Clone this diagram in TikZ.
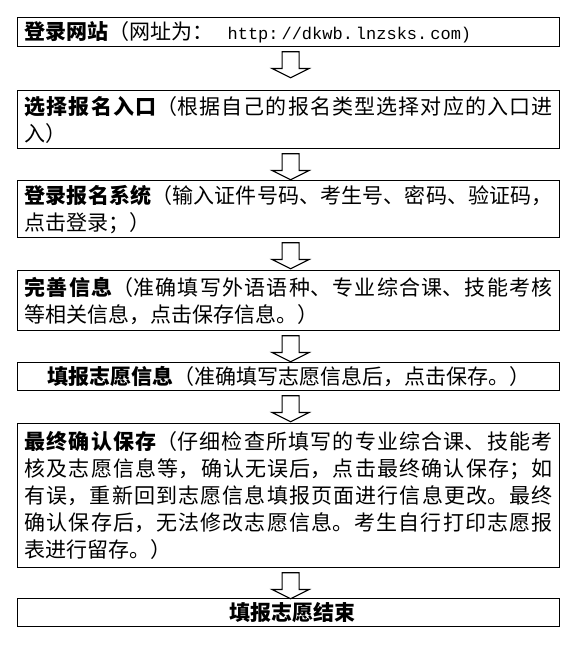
\documentclass[tikz,border=0pt]{standalone}
\usepackage{fontspec}
\newfontfamily\cjk{Noto Sans CJK SC}
\newfontfamily\urlfont{Liberation Mono}
\usetikzlibrary{shapes.arrows,calc}
\XeTeXlinebreaklocale "zh"
\XeTeXlinebreakskip=0pt plus 3pt
\begin{document}
\begin{tikzpicture}[x=1pt,y=1pt,
  box/.style={draw=black, line width=1.2pt, anchor=north west,
    text width=528pt, inner xsep=7pt, inner ysep=0pt,
    font=\cjk\fontsize{21}{27}\selectfont, align=justify},
  blockarrow/.style={single arrow, draw=black, line width=1.1pt,
    shape border rotate=270, minimum height=26pt, inner sep=8pt,
    single arrow head extend=10pt, single arrow tip angle=127, anchor=tail}]
\useasboundingbox (0,0) rectangle (579,647);
\node[box, align=left, minimum height=29pt] (b1) at (17,630)
  {{\bfseries 登录网站}（网址为：\hspace{14pt}{\urlfont\fontsize{17}{27}\selectfont http:\kern3pt//dkwb.\kern3pt lnzsks.\kern3pt com)}};
\node[box, minimum height=58pt] (b2) at (17,557)
  {{\bfseries 选择报名入口}（根据自己的报名类型选择对应的入口进\linebreak 入）};
\node[box, minimum height=57pt] (b3) at (17,467)
  {{\bfseries 登录报名系统}（输入证件号码、考生号、密码、验证码，\linebreak 点击登录；）};
\node[box, minimum height=60pt] (b4) at (17,377)
  {{\bfseries 完善信息}（准确填写外语语种、专业综合课、技能考核\linebreak 等相关信息，点击保存信息。）};
\node[box, align=center, minimum height=28pt] (b5) at (17,285)
  {\mbox{{\bfseries 填报志愿信息}（准确填写志愿信息后，点击保存。）}};
\node[box, minimum height=144pt] (b6) at (17,224)
  {{\bfseries 最终确认保存}（仔细检查所填写的专业综合课、技能考\linebreak 核及志愿信息等，确认无误后，点击最终确认保存；如\linebreak 有误，重新回到志愿信息填报页面进行信息更改。最终\linebreak 确认保存后，无法修改志愿信息。考生自行打印志愿报\linebreak 表进行留存。）};
\node[box, align=center, minimum height=28pt] (b7) at (17,49)
  {\hspace{8pt}\mbox{\bfseries 填报志愿结束}};
\node[blockarrow] (a1) at ($(b1.south)+(2,-4)$) {};
\node[blockarrow] (a2) at ($(b2.south)+(2,-4)$) {};
\node[blockarrow] (a3) at ($(b3.south)+(2,-4)$) {};
\node[blockarrow] (a4) at ($(b4.south)+(2,-4)$) {};
\node[blockarrow] (a5) at ($(b5.south)+(2,-4)$) {};
\node[blockarrow] (a6) at ($(b6.south)+(2,-4)$) {};
\end{tikzpicture}
\end{document}
